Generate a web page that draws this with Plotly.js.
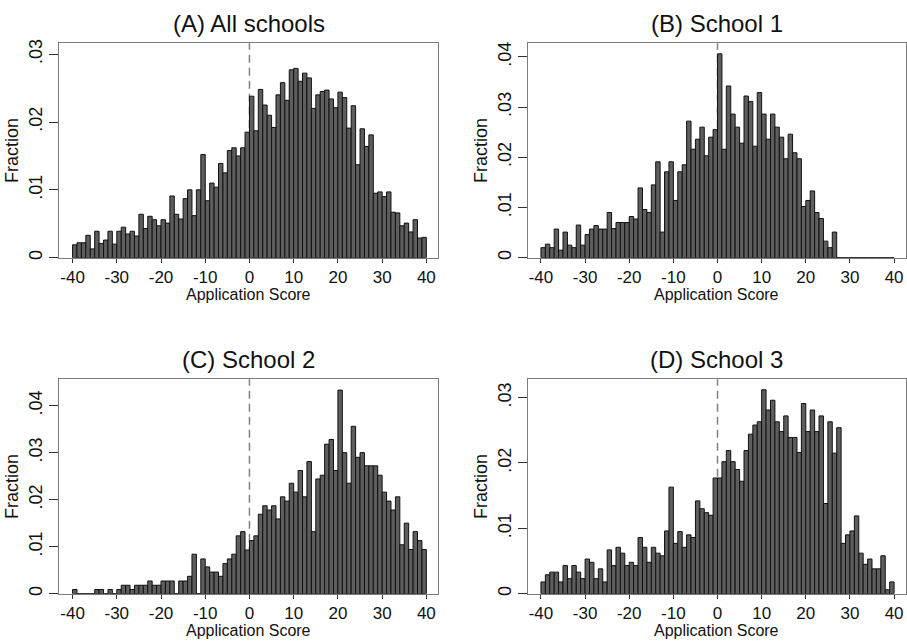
<!DOCTYPE html>
<html>
<head>
<meta charset="utf-8">
<script src="https://cdn.plot.ly/plotly-3.0.1.min.js"></script>
<style>html,body{margin:0;padding:0;background:#fff;}#chart{width:907px;height:641px;}</style>
</head>
<body>
<div id="chart"></div>
<script>
// Bin left edges (score), bins of width 1 from -40 to 40
const bins = [];
for (let b = -40; b < 40; b++) bins.push(b);

const panelTitles = ["(A) All schools", "(B) School 1", "(C) School 2", "(D) School 3"];
const xAxisTitle = "Application Score";
const yAxisTitle = "Fraction";
const xTickVals = [-40, -30, -20, -10, 0, 10, 20, 30, 40];
const xTickText = ["-40", "-30", "-20", "-10", "0", "10", "20", "30", "40"];
const yTickValsA = [0, 0.01, 0.02, 0.03];
const yTickTextA = ["0", ".01", ".02", ".03"];
const yTickValsB = [0, 0.01, 0.02, 0.03, 0.04];
const yTickTextB = ["0", ".01", ".02", ".03", ".04"];

const allSchools = [
  0.0019, 0.0022, 0.0022, 0.0033, 0.0013, 0.0039, 0.0021, 0.0026, 0.0039, 0.0020,
  0.0039, 0.0045, 0.0035, 0.0039, 0.0032, 0.0064, 0.0043, 0.0061, 0.0056, 0.0047,
  0.0056, 0.0051, 0.0091, 0.0064, 0.0057, 0.0087, 0.0100, 0.0062, 0.0100, 0.0152,
  0.0084, 0.0110, 0.0104, 0.0139, 0.0125, 0.0158, 0.0162, 0.0150, 0.0162, 0.0185,
  0.0238, 0.0187, 0.0248, 0.0225, 0.0210, 0.0192, 0.0240, 0.0258, 0.0232, 0.0277,
  0.0279, 0.0260, 0.0272, 0.0265, 0.0220, 0.0240, 0.0245, 0.0247, 0.0234, 0.0221,
  0.0244, 0.0236, 0.0191, 0.0224, 0.0137, 0.0190, 0.0164, 0.0181, 0.0095, 0.0097,
  0.0090, 0.0097, 0.0067, 0.0066, 0.0047, 0.0051, 0.0038, 0.0056, 0.0029, 0.0030
];
const school1 = [
  0.0020, 0.0027, 0.0020, 0.0057, 0.0015, 0.0051, 0.0025, 0.0020, 0.0065, 0.0025,
  0.0046, 0.0057, 0.0064, 0.0057, 0.0057, 0.0090, 0.0058, 0.0070, 0.0070, 0.0070,
  0.0082, 0.0077, 0.0139, 0.0096, 0.0090, 0.0145, 0.0191, 0.0051, 0.0171, 0.0191,
  0.0114, 0.0171, 0.0185, 0.0272, 0.0216, 0.0236, 0.0260, 0.0203, 0.0240, 0.0255,
  0.0406, 0.0216, 0.0342, 0.0286, 0.0260, 0.0228, 0.0322, 0.0311, 0.0222, 0.0329,
  0.0286, 0.0236, 0.0286, 0.0260, 0.0240, 0.0197, 0.0246, 0.0209, 0.0197, 0.0102,
  0.0114, 0.0133, 0.0090, 0.0078, 0.0033, 0.0020, 0.0051, 0, 0, 0,
  0, 0, 0, 0, 0, 0, 0, 0, 0, 0
];
const school2 = [
  0.0009, 0, 0, 0, 0, 0.0009, 0.0009, 0, 0.0009, 0,
  0.0009, 0.0018, 0.0018, 0.0009, 0.0018, 0.0018, 0.0018, 0.0027, 0.0018, 0.0018,
  0.0027, 0.0027, 0.0027, 0, 0.0027, 0.0027, 0.0037, 0.0084, 0, 0.0074,
  0.0057, 0.0046, 0.0046, 0.0037, 0.0064, 0.0074, 0.0084, 0.0123, 0.0132, 0.0093,
  0.0113, 0.0123, 0.0169, 0.0187, 0.0178, 0.0187, 0.0159, 0.0206, 0.0197, 0.0235,
  0.0216, 0.0262, 0.0206, 0.0281, 0.0132, 0.0244, 0.0252, 0.0318, 0.0328, 0.0262,
  0.0433, 0.0300, 0.0235, 0.0356, 0.0290, 0.0300, 0.0272, 0.0272, 0.0272, 0.0252,
  0.0216, 0.0197, 0.0178, 0.0206, 0.0104, 0.0150, 0.0094, 0.0132, 0.0113, 0.0094
];
const school3 = [
  0.0018, 0.0029, 0.0033, 0.0033, 0.0018, 0.0043, 0.0023, 0.0043, 0.0033, 0.0023,
  0.0053, 0.0048, 0.0023, 0.0038, 0.0018, 0.0067, 0.0043, 0.0071, 0.0062, 0.0043,
  0.0048, 0.0043, 0.0086, 0.0071, 0.0048, 0.0071, 0.0062, 0.0058, 0.0096, 0.0163,
  0.0077, 0.0095, 0.0071, 0.0090, 0.0086, 0.0142, 0.0130, 0.0124, 0.0120, 0.0177,
  0.0177, 0.0202, 0.0219, 0.0202, 0.0190, 0.0172, 0.0219, 0.0244, 0.0258, 0.0263,
  0.0312, 0.0281, 0.0296, 0.0263, 0.0248, 0.0272, 0.0239, 0.0239, 0.0216, 0.0291,
  0.0248, 0.0281, 0.0248, 0.0272, 0.0138, 0.0263, 0.0215, 0.0254, 0.0077, 0.0090,
  0.0096, 0.0119, 0.0062, 0.0045, 0.0053, 0.0038, 0.0038, 0.0058, 0.0006, 0.0018
];

const series = [allSchools, school1, school2, school3];
const W = 907, H = 641;
// plot boxes in pixels: [left, right, top, bottom]
const boxes = [
  [59.3, 438.3, 43.3, 257.7],
  [527.7, 906, 43.3, 257.7],
  [59.3, 438.3, 379.3, 593.7],
  [527.7, 906, 379.3, 593.7]
];
const yTops = [0.0316, 0.0427, 0.0456, 0.0328];
const yTicks = [[yTickValsA, yTickTextA], [yTickValsB, yTickTextB], [yTickValsB, yTickTextB], [yTickValsA, yTickTextA]];

const FONT = "Liberation Sans, Arial, Helvetica, sans-serif";
const traces = [];
const layout = {
  width: W, height: H,
  margin: {l: 0, r: 0, t: 0, b: 0},
  paper_bgcolor: "#fff", plot_bgcolor: "#fff",
  showlegend: false, bargap: 0,
  font: {family: FONT, color: "#111"},
  shapes: [], annotations: []
};

series.forEach((vals, i) => {
  const n = i + 1;
  const xa = "x" + (n === 1 ? "" : n), ya = "y" + (n === 1 ? "" : n);
  traces.push({
    type: "bar", x: bins, y: vals, width: 1, offset: 0,
    xaxis: xa, yaxis: ya,
    marker: {color: "#5e5e5e", line: {color: "#111", width: 1}},
    hoverinfo: "x+y"
  });
  const b = boxes[i];
  const xKey = "xaxis" + (n === 1 ? "" : n), yKey = "yaxis" + (n === 1 ? "" : n);
  layout[xKey] = {
    domain: [b[0] / W, b[1] / W], anchor: ya,
    range: [-43, 42.7], tickvals: xTickVals, ticktext: xTickText,
    ticks: "outside", ticklen: 4, tickcolor: "#333", tickwidth: 1,
    showline: true, mirror: true, linecolor: "#7a7a7a", linewidth: 1,
    showgrid: false, zeroline: false,
    tickfont: {size: 17, family: FONT, color: "#111"}
  };
  layout[yKey] = {
    domain: [1 - b[3] / H, 1 - b[2] / H], anchor: xa,
    range: [0, yTops[i]], tickvals: yTicks[i][0], ticktext: yTicks[i][1],
    tickangle: -90,
    ticks: "outside", ticklen: 9, tickcolor: "#333", tickwidth: 1,
    showline: true, mirror: true, linecolor: "#7a7a7a", linewidth: 1,
    showgrid: false, zeroline: false,
    tickfont: {size: 18, family: FONT, color: "#111"},
    title: {text: yAxisTitle, font: {size: 18, family: FONT, color: "#111"}, standoff: 2}
  };
  layout.shapes.push({
    type: "line", layer: "below", xref: xa, yref: ya + " domain",
    x0: 0, x1: 0, y0: 0, y1: 1,
    line: {color: "#808080", width: 1.5, dash: "8px,5px"}
  });
  // panel title
  layout.annotations.push({
    text: panelTitles[i], xref: "paper", yref: "paper",
    x: (b[0] + b[1]) / 2 / W, y: 1 - (b[2] - 20) / H,
    xanchor: "center", yanchor: "middle", showarrow: false,
    font: {size: 24, family: FONT, color: "#111"}
  });
  // x-axis title
  layout.annotations.push({
    text: xAxisTitle, xref: "paper", yref: "paper",
    x: (b[0] + b[1]) / 2 / W, y: 1 - (b[3] + 37) / H,
    xanchor: "center", yanchor: "middle", showarrow: false,
    font: {size: 16, family: FONT, color: "#111"}
  });
});

Plotly.newPlot("chart", traces, layout, {staticPlot: true});
</script>
</body>
</html>
